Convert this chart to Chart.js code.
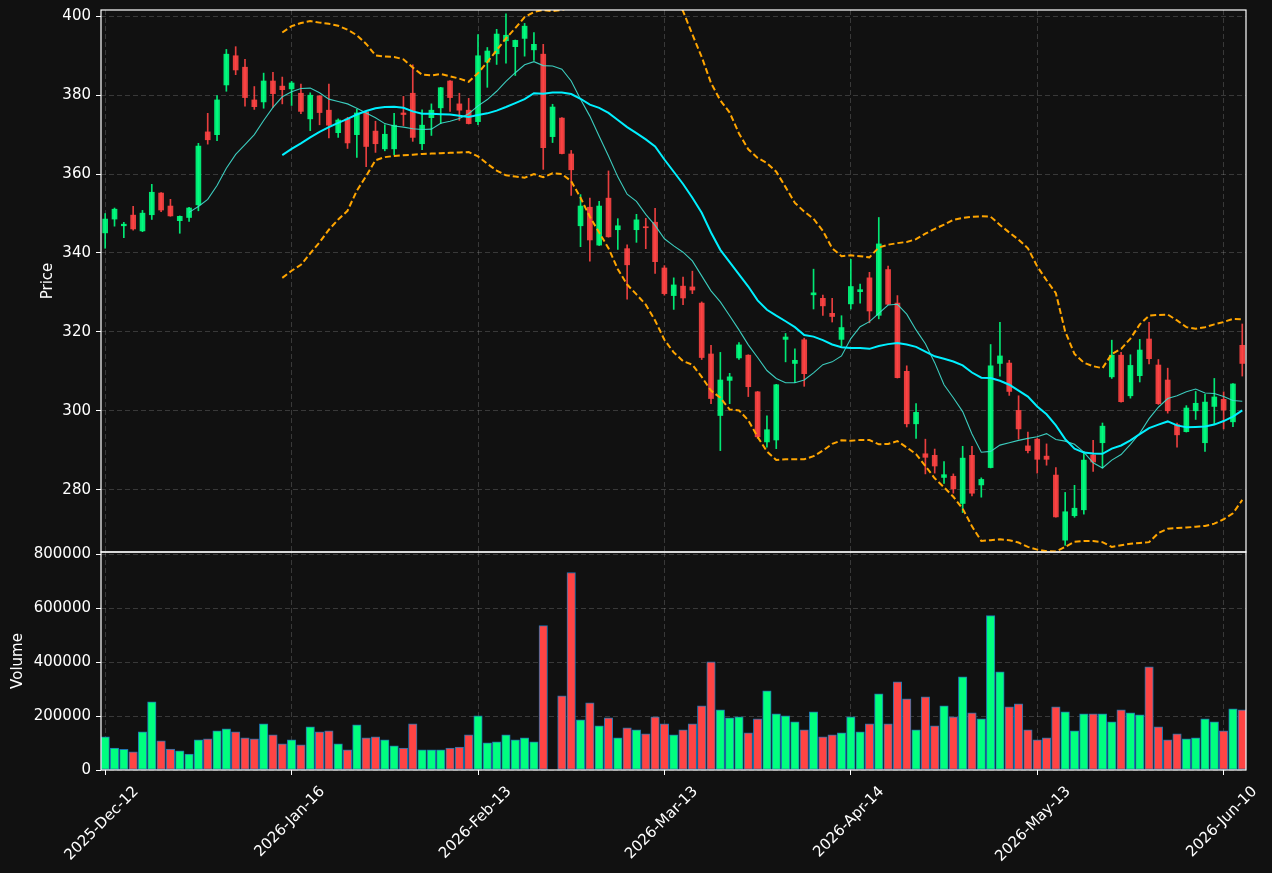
<!DOCTYPE html>
<html>
<head>
<meta charset="utf-8">
<title>Price and volume</title>
<script src="https://cdn.jsdelivr.net/npm/chart.js@4.4.0/dist/chart.umd.min.js"></script>
<style>
  html, body { margin: 0; padding: 0; background: #111111; }
  #wrap { position: relative; width: 1272px; height: 873px; }
  canvas { position: absolute; left: 0; top: 0; }
</style>
</head>
<body>
<div id="wrap">
  <canvas id="volumeChart" width="1272" height="873"></canvas>
  <canvas id="priceChart" width="1272" height="873"></canvas>
</div>
<script>
// x tick positions (bar index) and their date labels
const tickIdx = [0, 20, 40, 60, 80, 100, 120];
const tickLabels = ['2025-Dec-12', '2026-Jan-16', '2026-Feb-13', '2026-Mar-13', '2026-Apr-14', '2026-May-13', '2026-Jun-10'];
const priceTicks = [280, 300, 320, 340, 360, 380, 400];
const volumeTicks = [0, 200000, 400000, 600000, 800000];

const opens = [345.1, 348.6, 346.9, 349.6, 345.6, 349.7, 355.2, 351.9, 348.2, 349.0,
  352.2, 370.7, 370.0, 382.6, 390.0, 387.1, 378.8, 378.3, 383.6, 382.3,
  381.6, 380.5, 374.0, 379.8, 376.2, 370.5, 374.0, 370.0, 375.8, 370.9,
  366.4, 366.4, 375.5, 380.5, 367.7, 374.3, 376.8, 383.6, 377.8, 376.2,
  373.3, 388.4, 390.5, 393.8, 392.3, 394.4, 391.5, 390.4, 369.5, 374.2,
  365.1, 346.9, 351.6, 342.0, 353.9, 345.9, 341.1, 345.9, 346.6, 347.8,
  336.2, 329.2, 331.6, 331.4, 327.3, 314.4, 298.8, 307.7, 313.4, 314.1,
  304.8, 292.1, 292.6, 318.1, 312.0, 318.0, 329.4, 328.5, 324.7, 318.1,
  327.1, 330.2, 333.7, 324.2, 335.8, 327.3, 310.0, 296.7, 289.1, 288.7,
  283.1, 283.4, 276.5, 288.7, 281.2, 285.6, 312.0, 312.1, 300.1, 291.1,
  292.8, 288.5, 283.7, 267.2, 273.4, 274.9, 288.8, 291.9, 308.6, 314.1,
  303.8, 308.9, 318.2, 311.6, 307.8, 296.5, 294.7, 300.0, 291.9, 301.1,
  302.9, 297.2, 316.6];
const highs = [350.0, 351.4, 347.8, 351.8, 350.8, 357.4, 355.3, 353.6, 349.4, 351.6,
  367.8, 375.4, 379.9, 391.6, 392.3, 389.1, 382.2, 385.6, 385.8, 384.6,
  383.5, 382.8, 380.6, 379.9, 382.8, 374.0, 374.4, 376.4, 375.9, 373.4,
  372.5, 375.4, 379.7, 387.7, 376.3, 377.8, 382.0, 383.7, 380.5, 379.2,
  395.4, 392.1, 396.7, 400.6, 394.0, 398.2, 395.9, 392.9, 377.7, 374.3,
  366.0, 354.8, 353.9, 353.1, 360.8, 348.7, 342.1, 349.8, 348.8, 351.3,
  336.8, 333.7, 333.9, 335.4, 327.6, 316.6, 314.8, 309.5, 317.3, 314.2,
  304.9, 298.7, 306.7, 319.6, 315.7, 318.4, 335.9, 329.3, 328.5, 324.1,
  338.4, 332.1, 335.1, 349.0, 336.7, 329.2, 311.4, 301.8, 292.8, 290.3,
  287.1, 284.0, 291.0, 291.0, 283.0, 316.8, 322.4, 312.8, 303.8, 294.6,
  293.0, 291.6, 285.6, 279.3, 281.1, 289.7, 292.5, 296.9, 317.9, 314.8,
  314.2, 318.1, 322.4, 313.0, 310.8, 296.9, 301.3, 304.9, 304.2, 308.2,
  304.8, 306.9, 322.0];
const lows = [341.2, 346.8, 343.9, 345.8, 345.4, 348.5, 350.5, 349.3, 345.0, 348.0,
  350.7, 367.6, 368.5, 381.0, 385.2, 377.2, 376.4, 376.7, 376.9, 377.8,
  377.4, 375.3, 371.0, 372.5, 369.2, 369.3, 366.5, 364.2, 361.9, 365.5,
  365.9, 364.9, 372.3, 368.3, 366.2, 369.8, 372.8, 375.9, 373.6, 372.7,
  372.5, 382.0, 387.8, 388.1, 385.0, 389.9, 388.8, 361.2, 368.0, 365.1,
  354.6, 341.6, 337.9, 341.9, 344.0, 340.9, 328.3, 342.7, 341.1, 334.8,
  329.3, 325.7, 326.9, 329.7, 313.0, 301.8, 289.9, 301.8, 313.0, 303.6,
  293.0, 290.8, 290.4, 312.4, 307.1, 306.2, 325.8, 324.2, 322.5, 316.4,
  325.8, 327.3, 322.3, 323.3, 326.9, 308.3, 295.9, 293.0, 284.0, 284.2,
  281.6, 279.1, 274.2, 278.4, 278.1, 285.5, 308.8, 303.9, 292.8, 289.3,
  284.2, 286.2, 273.0, 265.9, 273.0, 273.8, 284.6, 285.5, 308.2, 302.2,
  303.2, 307.3, 311.9, 301.6, 299.4, 290.8, 294.6, 297.8, 289.7, 296.7,
  295.4, 296.0, 308.8];
const closes = [348.6, 351.1, 347.3, 346.1, 350.1, 355.4, 350.9, 349.4, 349.3, 351.4,
  367.1, 368.7, 378.8, 390.4, 386.4, 379.4, 377.1, 383.6, 380.4, 381.4,
  383.1, 375.9, 380.0, 375.6, 372.4, 373.7, 367.9, 375.5, 367.0, 367.7,
  370.1, 372.4, 375.1, 369.3, 372.4, 376.2, 381.9, 379.4, 376.2, 372.8,
  390.0, 391.2, 395.5, 395.2, 393.9, 397.5, 392.9, 366.7, 377.0, 365.2,
  361.1, 351.9, 343.3, 351.9, 344.1, 346.9, 337.0, 348.4, 346.4, 337.8,
  329.7, 331.9, 328.6, 330.6, 313.5, 303.1, 307.8, 308.6, 316.7, 306.1,
  293.4, 295.2, 306.6, 318.7, 312.8, 309.4, 329.9, 326.6, 323.9, 321.1,
  331.5, 330.7, 325.3, 342.3, 327.0, 308.4, 296.7, 299.6, 288.2, 286.0,
  283.8, 280.2, 288.0, 279.1, 282.6, 311.4, 313.9, 304.9, 295.4, 289.9,
  287.7, 287.7, 273.1, 274.4, 275.3, 287.5, 287.0, 296.1, 314.1, 302.3,
  311.5, 315.4, 313.2, 301.8, 300.0, 293.9, 300.7, 301.9, 302.2, 303.5,
  300.2, 306.8, 312.0];
const volumes = [122600, 81700, 76800, 66900, 141200, 252600, 107700, 78000, 70600, 59400,
  111500, 115200, 144900, 152300, 141200, 118900, 115200, 170900, 130000, 96600,
  111500, 92900, 159700, 141200, 144900, 96600, 74300, 167200, 118900, 122600,
  111500, 89200, 81700, 170900, 74300, 74300, 74300, 81700, 85400, 130000,
  200600, 100300, 104000, 130000, 111500, 118900, 104000, 535000, null, 274900,
  731900, 185800, 248900, 163500, 193200, 118900, 156000, 148600, 133700, 196900,
  170900, 130000, 148600, 170900, 237800, 401200, 222900, 193200, 196900, 137500,
  189500, 293500, 208000, 200600, 178300, 148600, 215500, 122600, 130000, 137500,
  196900, 141200, 170900, 282400, 170900, 326900, 263800, 148600, 271200, 163500,
  237800, 196900, 345500, 211800, 189500, 572100, 364100, 234100, 245200, 148600,
  111500, 118900, 234100, 215500, 144900, 208000, 208000, 208000, 178300, 222900,
  211800, 204300, 382700, 159700, 111500, 133700, 115200, 118900, 189500, 178300,
  144900, 226600, 222900];

// moving average 10 starts at bar 9
const MA10_START = 9;
const ma10 = [350.3, 351.8, 353.6, 357.1, 361.5, 365.0, 367.5, 370.0, 373.6, 376.9,
  379.6, 380.9, 381.7, 381.8, 380.6, 379.0, 378.4, 377.8, 376.7, 375.5,
  374.3, 372.8, 372.2, 371.9, 371.5, 371.3, 371.4, 372.9, 373.4, 374.1,
  375.3, 377.3, 378.9, 381.0, 383.5, 385.7, 387.7, 388.5, 387.5, 387.4,
  386.6, 383.6, 379.0, 374.7, 369.6, 364.6, 359.3, 354.9, 353.1, 349.8,
  347.0, 343.6, 341.8, 340.2, 338.0, 334.2, 330.4, 327.6, 324.1, 320.5,
  316.7, 313.5, 310.2, 308.2, 307.1, 307.1, 307.8, 309.6, 311.7, 312.4,
  313.9, 318.3, 321.3, 322.6, 324.7, 326.8, 327.0, 324.5, 320.5, 317.0,
  312.2, 306.6, 303.3, 299.8, 294.1, 289.5, 289.7, 291.3, 291.9, 292.5,
  293.0, 293.4, 294.2, 292.7, 292.3, 291.5, 289.5, 286.8, 285.5, 287.5,
  288.9, 291.5, 294.3, 298.0, 300.9, 303.1, 303.8, 304.8, 305.5, 304.5,
  304.4, 303.6, 302.6, 302.4];

// moving average 20 and bands start at bar 19
const MA20_START = 19;
const ma20 = [364.8, 366.4, 367.8, 369.3, 370.7, 371.9, 373.0, 374.0, 375.1, 376.0,
  376.7, 377.0, 377.1, 376.8, 375.9, 375.3, 375.3, 375.2, 375.1, 374.8,
  374.5, 375.0, 375.4, 376.1, 377.0, 378.0, 379.0, 380.5, 380.4, 380.7,
  380.7, 380.3, 379.1, 377.6, 376.8, 375.5, 373.7, 371.9, 370.4, 368.8,
  367.0, 363.7, 360.6, 357.5, 354.0, 350.2, 345.2, 340.8, 337.7, 334.6,
  331.5, 328.0, 325.6, 324.1, 322.7, 321.2, 319.2, 318.8, 317.9, 316.8,
  316.1, 315.9, 315.9, 315.7, 316.4, 316.9, 317.2, 316.8, 316.2, 315.0,
  313.8, 313.2, 312.5, 311.5, 309.7, 308.4, 308.3, 307.6, 306.6, 305.1,
  303.6, 301.1, 299.1, 296.3, 292.8, 290.4, 289.4, 289.2, 289.1, 290.4,
  291.2, 292.5, 294.1, 295.6, 296.5, 297.3, 296.3, 295.8, 295.9, 296.0,
  296.5, 297.4, 298.5, 300.1];
const bbUpper = [395.9, 397.5, 398.3, 398.8, 398.4, 398.1, 397.6, 396.6, 395.2, 393.0,
  390.1, 389.8, 389.7, 389.1, 387.0, 385.2, 385.0, 385.4, 384.8, 384.2,
  383.4, 385.6, 388.4, 391.4, 394.4, 397.0, 399.8, 401.1, 401.6, 401.3,
  401.6, 402.4, 404.2, 406.0, 408.4, 409.8, 411.5, 411.8, 411.3, 410.7,
  411.1, 409.3, 405.4, 401.3, 395.4, 389.7, 383.1, 378.7, 375.6, 370.3,
  366.3, 364.1, 362.8, 360.6, 356.7, 352.7, 350.5, 348.7, 345.6, 341.2,
  339.2, 339.4, 339.2, 338.9, 341.4, 342.1, 342.5, 342.8, 343.5, 344.9,
  346.1, 347.2, 348.4, 348.9, 349.2, 349.3, 349.2, 347.1, 345.2, 343.4,
  341.2, 336.6, 333.1, 329.8, 320.1, 314.4, 312.2, 311.3, 310.8, 314.4,
  315.7, 318.3, 321.9, 324.1, 324.3, 324.4, 322.9, 321.2, 320.8, 321.2,
  321.9, 322.5, 323.3, 323.2];
const bbLower = [333.7, 335.5, 337.0, 339.9, 342.7, 345.9, 348.5, 350.7, 355.8, 359.5,
  363.5, 364.3, 364.6, 364.8, 364.9, 365.1, 365.2, 365.3, 365.4, 365.5,
  365.6, 364.5, 362.6, 360.9, 359.7, 359.4, 359.1, 360.0, 359.2, 360.2,
  360.0, 358.2, 354.0, 349.2, 345.2, 341.2, 335.9, 332.0, 329.5, 326.9,
  322.9, 318.0, 314.8, 312.6, 311.7, 308.6, 305.1, 303.3, 300.3, 300.1,
  297.6, 293.4, 289.7, 287.5, 287.7, 287.7, 287.7, 288.5, 289.9, 291.6,
  292.5, 292.4, 292.6, 292.6, 291.5, 291.6, 292.3, 290.7, 289.0, 286.0,
  282.9, 280.6, 278.2, 275.2, 270.7, 267.0, 267.2, 267.4, 267.2, 266.6,
  265.5, 264.8, 264.4, 264.3, 265.5, 266.8, 267.0, 267.0, 266.7, 265.5,
  265.9, 266.3, 266.5, 266.7, 269.0, 270.1, 270.3, 270.4, 270.6, 270.8,
  271.4, 272.5, 274.0, 277.4];

const X_MIN = -0.45;
const X_MAX = 122.4;
const GRID = 'rgba(255,255,255,0.17)';
const UP_CANDLE = 'rgba(0,255,127,0.9)';
const DOWN_CANDLE = 'rgba(255,68,68,0.9)';
const UP_VOL = '#00ff7f';
const DOWN_VOL = '#ff4444';

Chart.defaults.font.family = "'DejaVu Sans', sans-serif";
Chart.defaults.font.size = 15;
Chart.defaults.color = '#ffffff';

// white box round each panel
const frame = {
  id: 'frame',
  afterDraw(chart) {
    const { ctx, chartArea: a } = chart;
    ctx.save();
    ctx.setLineDash([]);
    ctx.strokeStyle = '#ffffff';
    ctx.lineWidth = 1.2;
    ctx.strokeRect(a.left, a.top, a.right - a.left, a.bottom - a.top);
    ctx.restore();
  }
};

const bars = closes.map((c, i) => i);
const isUp = i => closes[i] >= opens[i];
const series = (vals, start) => vals.map((v, k) => ({ x: k + start, y: v }));

function xScale(extra) {
  return Object.assign({
    type: 'linear',
    min: X_MIN,
    max: X_MAX,
    offset: false,
    afterBuildTicks: s => { s.ticks = tickIdx.map(v => ({ value: v })); },
    grid: { color: GRID, lineWidth: 1, offset: false, tickColor: '#ffffff', tickLength: 5, tickBorderDash: [] },
    border: { display: false, dash: [5, 3] }
  }, extra);
}

const baseOptions = {
  responsive: false,
  animation: false,
  devicePixelRatio: 1,
  events: [],
  plugins: { legend: { display: false }, tooltip: { enabled: false } }
};

new Chart(document.getElementById('priceChart'), {
  type: 'bar',
  data: {
    datasets: [
      { type: 'line', data: series(bbUpper, MA20_START), borderColor: '#ffa500', borderWidth: 2, borderDash: [6, 3], pointRadius: 0, order: 0 },
      { type: 'line', data: series(bbLower, MA20_START), borderColor: '#ffa500', borderWidth: 2, borderDash: [6, 3], pointRadius: 0, order: 0 },
      { type: 'line', data: series(ma20, MA20_START), borderColor: '#00f0ff', borderWidth: 2, pointRadius: 0, order: 0 },
      { type: 'line', data: series(ma10, MA10_START), borderColor: 'rgba(64,224,208,0.9)', borderWidth: 1.1, pointRadius: 0, order: 0 },
      {
        data: bars.map(i => ({ x: i, y: [opens[i], closes[i]] })),
        backgroundColor: bars.map(i => isUp(i) ? UP_CANDLE : DOWN_CANDLE),
        barThickness: 5, grouped: false, minBarLength: 1, borderWidth: 0, order: 1
      },
      {
        data: bars.map(i => ({ x: i, y: [lows[i], highs[i]] })),
        backgroundColor: bars.map(i => isUp(i) ? UP_CANDLE : DOWN_CANDLE),
        barThickness: 1, grouped: false, borderWidth: 0, order: 2
      }
    ]
  },
  options: Object.assign({}, baseOptions, {
    layout: { padding: { left: 39, top: 10, right: 26, bottom: 321 } },
    scales: {
      x: xScale({
        ticks: { display: false },
        grid: { color: GRID, lineWidth: 1, offset: false, drawTicks: false },
        afterFit: s => { s.height = 0; s.paddingLeft = 0; s.paddingRight = 0; }
      }),
      y: {
        min: 264.2,
        max: 401.6,
        afterBuildTicks: s => { s.ticks = priceTicks.map(v => ({ value: v })); },
        afterFit: s => { s.width = 62; s.paddingTop = 0; s.paddingBottom = 0; },
        ticks: { color: '#ffffff', padding: 5 },
        grid: { color: GRID, lineWidth: 1, tickColor: '#ffffff', tickLength: 5, tickBorderDash: [] },
        border: { display: false, dash: [5, 3] },
        title: { display: true, text: 'Price', color: '#ffffff', padding: 0 }
      }
    }
  }),
  plugins: [frame]
});

new Chart(document.getElementById('volumeChart'), {
  type: 'bar',
  data: {
    datasets: [{
      data: bars.map(i => ({ x: i, y: volumes[i] })),
      backgroundColor: bars.map(i => isUp(i) ? UP_VOL : DOWN_VOL),
      borderColor: '#1f77b4',
      borderWidth: 1,
      borderSkipped: false,
      barThickness: 8.5
    }]
  },
  options: Object.assign({}, baseOptions, {
    layout: { padding: { left: 9, top: 552, right: 26, bottom: 0 } },
    scales: {
      x: xScale({
        ticks: {
          autoSkip: false, maxRotation: 45, minRotation: 45, labelOffset: 31, padding: 8,
          color: '#ffffff', callback: (v, i) => tickLabels[i]
        },
        afterFit: s => { s.height = 103; s.paddingLeft = 0; s.paddingRight = 0; }
      }),
      y: {
        min: 0,
        max: 808000,
        afterBuildTicks: s => { s.ticks = volumeTicks.map(v => ({ value: v })); },
        afterFit: s => { s.width = 92; s.paddingTop = 0; s.paddingBottom = 0; },
        ticks: { color: '#ffffff', padding: 5, callback: v => String(v) },
        grid: { color: GRID, lineWidth: 1, tickColor: '#ffffff', tickLength: 5, tickBorderDash: [] },
        border: { display: false, dash: [5, 3] },
        title: { display: true, text: 'Volume', color: '#ffffff', padding: 0 }
      }
    }
  }),
  plugins: [frame]
});
</script>
</body>
</html>
